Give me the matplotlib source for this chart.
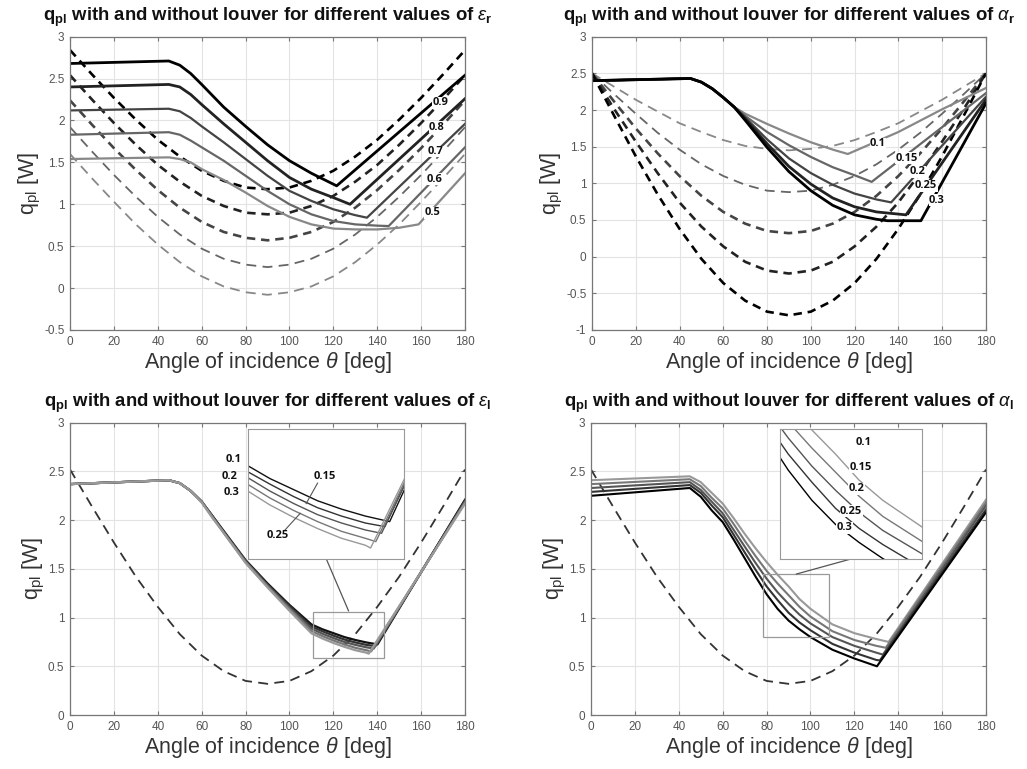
import matplotlib
matplotlib.use('Agg')
import matplotlib.pyplot as plt
from matplotlib.patches import Rectangle
from matplotlib.ticker import FuncFormatter

plt.rcParams['font.family'] = ['Liberation Sans', 'DejaVu Sans']
plt.rcParams['mathtext.fontset'] = 'custom'
plt.rcParams['mathtext.rm'] = 'Liberation Sans'
plt.rcParams['mathtext.it'] = 'Liberation Sans:italic'
plt.rcParams['mathtext.bf'] = 'Liberation Sans:bold'
plt.rcParams['axes.unicode_minus'] = False

# ---------------- data ----------------
theta_d = [0, 10, 20, 30, 40, 50, 60, 70, 80, 90, 100, 110, 120, 130, 140, 150, 160, 170, 180]

# top-left: eps_r
eps_r = ['0.9', '0.8', '0.7', '0.6', '0.5']
tl_x = [
    [0, 45, 50, 55, 60, 70, 80, 90, 100, 110, 121.5, 180],
    [0, 45, 50, 55, 60, 70, 80, 90, 100, 110, 120, 127.6, 180],
    [0, 45, 50, 55, 60, 70, 80, 90, 100, 110, 120, 130, 135.3, 180],
    [0, 45, 50, 55, 60, 70, 80, 90, 100, 110, 120, 130, 140, 145.2, 180],
    [0, 45, 50, 55, 60, 70, 80, 90, 100, 110, 120, 130, 140, 150, 158.8, 180],
]
tl_y = [
    [2.68, 2.71, 2.66, 2.56, 2.43, 2.16, 1.93, 1.71, 1.52, 1.37, 1.22, 2.54],
    [2.40, 2.43, 2.40, 2.31, 2.19, 1.96, 1.74, 1.52, 1.32, 1.18, 1.08, 1.00, 2.26],
    [2.12, 2.14, 2.11, 2.03, 1.93, 1.74, 1.54, 1.34, 1.16, 1.04, 0.94, 0.87, 0.84, 1.96],
    [1.83, 1.86, 1.83, 1.76, 1.68, 1.52, 1.34, 1.16, 1.00, 0.88, 0.80, 0.76, 0.745, 0.74, 1.68],
    [1.54, 1.56, 1.54, 1.50, 1.42, 1.29, 1.14, 0.98, 0.85, 0.76, 0.71, 0.70, 0.70, 0.72, 0.76, 1.37],
]
tl_d = [
    [2.84, 2.55, 2.27, 2.01, 1.77, 1.57, 1.40, 1.28, 1.20, 1.18, 1.20, 1.28, 1.40, 1.57, 1.77, 2.01, 2.27, 2.55, 2.84],
    [2.54, 2.25, 1.97, 1.71, 1.47, 1.27, 1.10, 0.98, 0.90, 0.88, 0.90, 0.98, 1.10, 1.27, 1.47, 1.71, 1.97, 2.25, 2.54],
    [2.24, 1.95, 1.67, 1.41, 1.17, 0.96, 0.79, 0.67, 0.60, 0.57, 0.60, 0.67, 0.79, 0.96, 1.17, 1.41, 1.67, 1.95, 2.24],
    [1.92, 1.63, 1.35, 1.09, 0.85, 0.64, 0.47, 0.35, 0.28, 0.25, 0.28, 0.35, 0.47, 0.64, 0.85, 1.09, 1.35, 1.63, 1.92],
    [1.60, 1.31, 1.03, 0.76, 0.52, 0.31, 0.14, 0.02, -0.05, -0.08, -0.05, 0.02, 0.14, 0.31, 0.52, 0.76, 1.03, 1.31, 1.60],
]
tl_lab_x = [168.7, 167.2, 166.4, 166.0, 165.3]
tl_lab_y = [2.21, 1.92, 1.63, 1.30, 0.90]

# top-right: alpha_r
alpha_r = ['0.1', '0.15', '0.2', '0.25', '0.3']
tr_x = [
    [0, 45, 50, 55, 60, 65, 70, 80, 90, 100, 110, 116.9, 140, 160, 180],
    [0, 45, 50, 55, 60, 65, 70, 80, 90, 100, 110, 120, 127.8, 180],
    [0, 45, 50, 55, 60, 65, 70, 80, 90, 100, 110, 120, 130, 136.7, 180],
    [0, 45, 50, 55, 60, 65, 70, 80, 90, 100, 110, 120, 130, 143.5, 180],
    [0, 45, 50, 55, 60, 65, 70, 80, 90, 100, 110, 120, 130, 135, 150.3, 180],
]
tr_y = [
    [2.40, 2.43, 2.38, 2.29, 2.17, 2.04, 1.95, 1.81, 1.68, 1.56, 1.46, 1.40, 1.70, 2.01, 2.30],
    [2.40, 2.43, 2.38, 2.29, 2.17, 2.04, 1.92, 1.70, 1.52, 1.36, 1.22, 1.11, 1.02, 2.23],
    [2.40, 2.43, 2.38, 2.29, 2.17, 2.04, 1.90, 1.60, 1.34, 1.14, 0.98, 0.86, 0.78, 0.74, 2.18],
    [2.40, 2.43, 2.38, 2.29, 2.17, 2.04, 1.88, 1.54, 1.23, 0.99, 0.80, 0.68, 0.61, 0.57, 2.14],
    [2.40, 2.43, 2.38, 2.29, 2.17, 2.04, 1.86, 1.49, 1.16, 0.90, 0.70, 0.57, 0.51, 0.49, 0.49, 2.09],
]
tr_d = [
    [2.50, 2.32, 2.14, 1.98, 1.82, 1.70, 1.59, 1.51, 1.47, 1.45, 1.47, 1.51, 1.59, 1.70, 1.82, 1.98, 2.14, 2.32, 2.50],
    [2.50, 2.22, 1.95, 1.69, 1.46, 1.26, 1.10, 0.98, 0.90, 0.88, 0.90, 0.98, 1.10, 1.26, 1.46, 1.69, 1.95, 2.22, 2.50],
    [2.50, 2.12, 1.75, 1.41, 1.10, 0.83, 0.61, 0.45, 0.35, 0.32, 0.35, 0.45, 0.61, 0.83, 1.10, 1.41, 1.75, 2.12, 2.50],
    [2.50, 2.02, 1.57, 1.14, 0.74, 0.41, 0.14, -0.07, -0.19, -0.23, -0.19, -0.07, 0.14, 0.41, 0.74, 1.14, 1.57, 2.02, 2.50],
    [2.50, 1.93, 1.37, 0.85, 0.38, -0.03, -0.36, -0.60, -0.75, -0.80, -0.75, -0.60, -0.36, -0.03, 0.38, 0.85, 1.37, 1.93, 2.50],
]
tr_lab_x = [130.7, 143.9, 148.8, 152.7, 157.6]
tr_lab_y = [1.54, 1.34, 1.155, 0.964, 0.77]

# bottom-left: eps_l
eps_l = ['0.1', '0.15', '0.2', '0.25', '0.3']
bl_x = [
    [0, 45, 50, 55, 60, 65, 70, 80, 90, 100, 110, 115, 120, 125, 130, 135, 140.1, 180],
    [0, 45, 50, 55, 60, 65, 70, 80, 90, 100, 110, 115, 120, 125, 130, 135, 139.1, 180],
    [0, 45, 50, 55, 60, 65, 70, 80, 90, 100, 110, 115, 120, 125, 130, 135, 138.4, 180],
    [0, 45, 50, 55, 60, 65, 70, 80, 90, 100, 110, 115, 120, 125, 130, 135, 137.2, 180],
    [0, 45, 50, 55, 60, 65, 70, 80, 90, 100, 110, 115, 120, 125, 130, 135, 136.1, 180],
]
bl_y = [
    [2.37, 2.41, 2.38, 2.30, 2.19, 2.04, 1.89, 1.59, 1.35, 1.13, 0.930, 0.880, 0.840, 0.800, 0.770, 0.745, 0.725, 2.21],
    [2.37, 2.41, 2.38, 2.30, 2.19, 2.04, 1.88, 1.58, 1.34, 1.12, 0.908, 0.860, 0.815, 0.775, 0.745, 0.720, 0.707, 2.20],
    [2.37, 2.41, 2.38, 2.30, 2.19, 2.03, 1.88, 1.58, 1.33, 1.10, 0.887, 0.835, 0.790, 0.750, 0.720, 0.695, 0.683, 2.19],
    [2.37, 2.41, 2.38, 2.30, 2.19, 2.03, 1.87, 1.57, 1.32, 1.09, 0.863, 0.810, 0.765, 0.725, 0.690, 0.665, 0.653, 2.18],
    [2.37, 2.41, 2.38, 2.30, 2.18, 2.02, 1.87, 1.56, 1.31, 1.07, 0.839, 0.785, 0.740, 0.700, 0.665, 0.640, 0.630, 2.17],
]
bl_d = [2.52, 2.14, 1.77, 1.42, 1.11, 0.83, 0.61, 0.45, 0.35, 0.32, 0.35, 0.45, 0.61, 0.83, 1.11, 1.42, 1.77, 2.14, 2.52]

# bottom-right: alpha_l
alpha_l = ['0.1', '0.15', '0.2', '0.25', '0.3']
br_x = [
    [0, 45, 50, 55, 60, 65, 70, 75, 80, 85, 90, 95, 100, 110, 120, 130, 135.6, 180],
    [0, 45, 50, 55, 60, 65, 70, 75, 80, 85, 90, 95, 100, 110, 120, 130, 134.3, 180],
    [0, 45, 50, 55, 60, 65, 70, 75, 80, 85, 90, 95, 100, 110, 120, 130, 133.0, 180],
    [0, 45, 50, 55, 60, 65, 70, 75, 80, 85, 90, 95, 100, 110, 120, 130, 131.6, 180],
    [0, 45, 50, 55, 60, 65, 70, 75, 80, 85, 90, 95, 100, 110, 120, 130.3, 180],
]
br_y = [
    [2.41, 2.45, 2.39, 2.28, 2.17, 2.02, 1.86, 1.71, 1.57, 1.44, 1.32, 1.19, 1.09, 0.93, 0.84, 0.78, 0.75, 2.21],
    [2.37, 2.42, 2.35, 2.23, 2.12, 1.96, 1.79, 1.63, 1.48, 1.35, 1.23, 1.11, 1.01, 0.86, 0.77, 0.71, 0.69, 2.18],
    [2.33, 2.39, 2.31, 2.19, 2.07, 1.90, 1.73, 1.56, 1.40, 1.26, 1.14, 1.03, 0.94, 0.80, 0.71, 0.64, 0.62, 2.15],
    [2.29, 2.36, 2.28, 2.15, 2.03, 1.85, 1.67, 1.49, 1.32, 1.18, 1.05, 0.95, 0.87, 0.73, 0.64, 0.565, 0.56, 2.11],
    [2.25, 2.33, 2.24, 2.10, 1.98, 1.80, 1.61, 1.42, 1.24, 1.09, 0.97, 0.88, 0.80, 0.67, 0.58, 0.50, 2.08],
]
br_d = [2.52, 2.14, 1.77, 1.42, 1.11, 0.83, 0.61, 0.45, 0.35, 0.32, 0.35, 0.45, 0.61, 0.83, 1.11, 1.42, 1.77, 2.14, 2.52]

# inset boxes: (x0, y0, width, height) in data units, zoom limits, connector
bl_inset_pos = [81.3, 1.60, 71.1, 1.34]
bl_zoom = [110.5, 143.2, 0.59, 1.06]
bl_link = [[117.0, 126.9], [1.59, 1.07]]
bl_inset_lab = [('0.1', 74.5, 2.62), ('0.2', 72.9, 2.45), ('0.3', 73.7, 2.28)]
bl_lead = [('0.15', 116.3, 2.45, [112.8, 107.6], [2.38, 2.17]),
           ('0.25', 94.7, 1.84, [98.0, 104.9], [1.90, 2.07])]

br_inset_pos = [86.0, 1.60, 64.8, 1.34]
br_zoom = [78.2, 108.3, 0.797, 1.447]
br_link = [[93.6, 118.2], [1.447, 1.60]]
br_inset_lab = [('0.1', 124.3, 2.80), ('0.15', 123.0, 2.54), ('0.2', 120.9, 2.32),
                ('0.25', 118.5, 2.09), ('0.3', 115.5, 1.92)]

# ---------------- styling ----------------
grays5 = ['#000000', '#222222', '#444444', '#666666', '#888888']
grays5_rev = grays5[::-1]
TXT = '#333333'
fmt = FuncFormatter(lambda v, p: '%g' % v)


def style_axes(ax, ylim, yticks, sym):
    ax.set_xlim(0, 180)
    ax.set_ylim(*ylim)
    ax.set_xticks(range(0, 181, 20))
    ax.set_yticks(yticks)
    ax.xaxis.set_major_formatter(fmt)
    ax.yaxis.set_major_formatter(fmt)
    ax.grid(True, color='#e3e3e3', lw=0.8)
    ax.set_axisbelow(True)
    for s in ax.spines.values():
        s.set_color('#777777')
        s.set_linewidth(0.9)
    ax.tick_params(direction='in', length=3, top=True, right=True,
                   labelsize=8.5, colors='#777777', labelcolor='#555555', pad=4)
    ax.set_xlabel(r'Angle of incidence $\theta$ [deg]', fontsize=15.5, color=TXT, labelpad=2)
    ax.set_ylabel(r'q$_{\mathrm{pl}}$ [W]', fontsize=15.5, color=TXT, labelpad=1)
    ax.set_title(r'$\mathbf{q_{pl}}$ with and without louver for different values of ' + sym,
                 fontsize=13.3, fontweight='bold', color='#111111', pad=11)


def dash_style(i, n_dark):
    # darker dashed curves are thicker with short dashes
    if i < n_dark:
        return dict(lw=1.9, dashes=(3.2, 2.2))
    return dict(lw=1.3, dashes=(5.5, 3.5))


fig = plt.figure(figsize=(10.27, 7.69), dpi=100)

# top-left
ax = fig.add_axes([0.0682, 0.5709, 0.3846, 0.3814])
for i in range(5):
    ax.plot(theta_d, tl_d[i], color=grays5[i], **dash_style(i, 3))
for i in range(5):
    ax.plot(tl_x[i], tl_y[i], color=grays5[i], lw=2.0 if i < 2 else 1.6)
for i in range(5):
    ax.text(tl_lab_x[i], tl_lab_y[i], eps_r[i], fontsize=8, fontweight='bold',
            family='Open Sans', ha='center', va='center', color='#111111',
            bbox=dict(fc='white', ec='none', pad=0.3))
style_axes(ax, (-0.5, 3), [-0.5, 0, 0.5, 1, 1.5, 2, 2.5, 3], r'$\epsilon_\mathbf{r}$')

# top-right
ax = fig.add_axes([0.5764, 0.5709, 0.3836, 0.3814])
for i in range(5):
    ax.plot(theta_d, tr_d[i], color=grays5_rev[i], **dash_style(4 - i, 3))
for i in range(5):
    ax.plot(tr_x[i], tr_y[i], color=grays5_rev[i], lw=2.0 if i > 2 else 1.6)
for i in range(5):
    ax.text(tr_lab_x[i], tr_lab_y[i], alpha_r[i], fontsize=8, fontweight='bold',
            family='Open Sans', ha='center', va='center', color='#111111',
            bbox=dict(fc='white', ec='none', pad=0.3))
style_axes(ax, (-1, 3), [-1, -0.5, 0, 0.5, 1, 1.5, 2, 2.5, 3], r'$\alpha_\mathbf{r}$')

# bottom-left
bl_cols = ['#111111', '#333333', '#555555', '#777777', '#999999']
ax = fig.add_axes([0.0682, 0.0702, 0.3846, 0.3801])
ax.plot(theta_d, bl_d, color='#333333', lw=1.3, dashes=(5.5, 3.5))
for i in range(5):
    ax.plot(bl_x[i], bl_y[i], color=bl_cols[i], lw=1.6)
ax.add_patch(Rectangle((bl_zoom[0], bl_zoom[2]), bl_zoom[1] - bl_zoom[0], bl_zoom[3] - bl_zoom[2],
                       fill=False, ec='#999999', lw=0.9, zorder=4))
ax.plot(bl_link[0], bl_link[1], color='#555555', lw=0.9, zorder=4)
ins = ax.inset_axes(bl_inset_pos, transform=ax.transData, zorder=5)
for i in range(5):
    ins.plot(bl_x[i], bl_y[i], color=bl_cols[i], lw=1.0)
ins.set_xlim(bl_zoom[0], bl_zoom[1])
ins.set_ylim(bl_zoom[2], bl_zoom[3])
ins.set_xticks([])
ins.set_yticks([])
for s in ins.spines.values():
    s.set_color('#999999')
for lab, x, y in bl_inset_lab:
    ax.text(x, y, lab, fontsize=8, fontweight='bold', family='Open Sans',
            ha='center', va='center', color='#111111')
for lab, x, y, lx, ly in bl_lead:
    ax.plot(lx, ly, color='#555555', lw=0.8, zorder=6)
    ax.text(x, y, lab, fontsize=8, fontweight='bold', family='Open Sans',
            ha='center', va='center', color='#111111', zorder=7)
style_axes(ax, (0, 3), [0, 0.5, 1, 1.5, 2, 2.5, 3], r'$\epsilon_\mathbf{l}$')

# bottom-right
br_cols = ['#999999', '#777777', '#555555', '#333333', '#000000']
ax = fig.add_axes([0.5755, 0.0702, 0.3846, 0.3801])
ax.plot(theta_d, br_d, color='#333333', lw=1.3, dashes=(5.5, 3.5))
for i in range(5):
    ax.plot(br_x[i], br_y[i], color=br_cols[i], lw=1.5)
ax.add_patch(Rectangle((br_zoom[0], br_zoom[2]), br_zoom[1] - br_zoom[0], br_zoom[3] - br_zoom[2],
                       fill=False, ec='#999999', lw=0.9, zorder=4))
ax.plot(br_link[0], br_link[1], color='#555555', lw=0.9, zorder=4)
ins = ax.inset_axes(br_inset_pos, transform=ax.transData, zorder=5)
for i in range(5):
    ins.plot(br_x[i], br_y[i], color=br_cols[i], lw=1.0)
ins.set_xlim(br_zoom[0], br_zoom[1])
ins.set_ylim(br_zoom[2], br_zoom[3])
ins.set_xticks([])
ins.set_yticks([])
for s in ins.spines.values():
    s.set_color('#999999')
for lab, x, y in br_inset_lab:
    ax.text(x, y, lab, fontsize=8, fontweight='bold', family='Open Sans',
            ha='center', va='center', color='#111111', zorder=7,
            bbox=dict(fc='white', ec='none', pad=0.3))
style_axes(ax, (0, 3), [0, 0.5, 1, 1.5, 2, 2.5, 3], r'$\alpha_\mathbf{l}$')

fig.savefig('out.png', dpi=100)
